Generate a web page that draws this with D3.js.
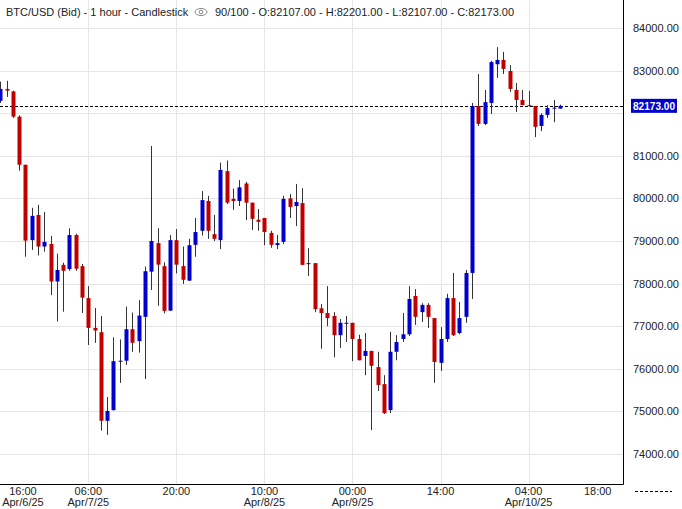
<!DOCTYPE html>
<html>
<head>
<meta charset="utf-8">
<script src="https://cdn.jsdelivr.net/npm/d3@7"></script>
<style>
  body { margin: 0; background: #fff; }
  text { font-family: "Liberation Sans", Arial, sans-serif; }
</style>
</head>
<body>
<svg id="chart" width="682" height="509"></svg>
<script>
// hourly candles starting Apr 6 16:00
const opens = [82290,82570,82510,81920,80790,79020,79610,78870,78930,78050,78440,78340,79140,78410,77660,76960,76860,74780,75030,76170,
  76190,76930,76650,77220,78280,78950,78410,77365,79020,78410,78070,78910,79240,79940,79160,79020,80640,79990,79940,80350,
  79900,79500,79540,79190,78905,78980,80000,79820,79890,78460,78480,77420,77310,77240,76790,77060,77080,76700,76300,76420,
  76040,75640,75030,76400,76700,76810,77710,77330,77500,77190,76140,76700,77660,76840,77220,78250,82170,81750,82240,83150,
  83250,82990,82545,82310,82190,82170,81700,81960,82107,82107];
const highs = [82740,82760,82530,81950,80790,79780,79850,79680,79120,78700,78490,79300,79170,78460,77940,77430,77240,75340,76740,76690,
  77460,77320,77610,78400,81230,79300,78500,79140,79280,78870,79050,79540,80170,80060,79610,80840,80890,80230,80430,80390,
  79900,79750,79540,79240,79140,80060,80100,80340,80240,78830,78480,77520,77940,77330,77170,77240,77080,76800,76840,76420,
  76400,75850,76870,76790,77310,77940,77870,77540,77540,77190,76980,77760,78250,77570,78320,82240,82920,82545,83230,83550,
  83440,83130,82710,82545,82520,82170,82000,82190,82310,82201];
const lows = [82240,82380,81890,80650,78630,78790,78660,78750,77730,77110,77340,78300,78300,77310,76560,76610,74550,74450,75020,75670,
  76090,76400,76380,75760,77850,77480,77300,77360,78240,77990,78060,78630,79130,79050,79000,78810,79870,79730,79820,79490,
  79260,79240,78900,78840,78810,78930,79540,79350,78430,78180,77330,76470,77000,76270,76490,76630,76180,76200,75850,74560,
  75480,74940,74960,76200,76630,76770,77030,77100,76960,75670,75950,76630,76770,76810,77080,77640,81700,81720,81980,82830,
  82920,82500,82030,82190,82160,81440,81580,81890,81790,82107];
const closes = [82570,82530,81920,80790,79010,79590,78870,78980,78050,78320,78300,79140,78350,77670,76960,76900,74780,75010,76180,76190,
  76930,76610,77250,78290,79000,78445,77360,79020,78445,78090,78900,79210,79960,79240,79050,80670,79900,79940,80260,79900,
  79520,79450,79210,78910,78950,79990,79800,79915,78440,78480,77400,77310,77190,76790,77080,77080,76700,76200,76420,76070,
  75620,74960,76400,76630,76810,77640,77220,77500,77220,76160,76700,77660,76790,77190,78250,82170,81750,82260,83200,83250,
  83040,82570,82310,82190,82170,81680,81960,82120,82130,82173];

const priceTicks = d3.range(74000, 84001, 1000);
const gridIdx = [14, 28, 42, 56, 70, 84];
const timeLabels = [
  { i: 3.6, t: "16:00", d: "Apr/6/25" },
  { i: 14, t: "06:00", d: "Apr/7/25" },
  { i: 28, t: "20:00", d: "" },
  { i: 42, t: "10:00", d: "Apr/8/25" },
  { i: 56, t: "00:00", d: "Apr/9/25" },
  { i: 70, t: "14:00", d: "" },
  { i: 84, t: "04:00", d: "Apr/10/25" },
  { i: 95, t: "18:00", d: "" }
];
const lastPrice = 82173;

const candles = opens.map((o, i) => ({ i, o, h: highs[i], l: lows[i], c: closes[i] }));

const svg = d3.select("#chart");
const plotW = 623, plotH = 484;

const x = d3.scaleLinear().domain([0, 89]).range([0.3, 560]);
const y = d3.scaleLinear().domain([74000, 84000]).range([454, 28]);

// grid
svg.append("g").selectAll("line").data(priceTicks).enter().append("line")
  .attr("x1", 0).attr("x2", plotW)
  .attr("y1", d => Math.round(y(d)) + 0.5).attr("y2", d => Math.round(y(d)) + 0.5)
  .attr("stroke", "#e6e6e6");
svg.append("g").selectAll("line").data(gridIdx).enter().append("line")
  .attr("x1", d => Math.round(x(d)) + 0.5).attr("x2", d => Math.round(x(d)) + 0.5)
  .attr("y1", 0).attr("y2", plotH)
  .attr("stroke", "#e6e6e6");

// last price line
svg.append("line")
  .attr("x1", 0).attr("x2", plotW)
  .attr("y1", Math.round(y(lastPrice)) + 0.5).attr("y2", Math.round(y(lastPrice)) + 0.5)
  .attr("stroke", "#000").attr("stroke-dasharray", "3,2");

// candles
const g = svg.append("g");
g.selectAll(".wick").data(candles).enter().append("line")
  .attr("x1", d => Math.round(x(d.i)) + 0.5).attr("x2", d => Math.round(x(d.i)) + 0.5)
  .attr("y1", d => y(d.h)).attr("y2", d => y(d.l))
  .attr("stroke", "#333").attr("stroke-width", 1);
g.selectAll(".body").data(candles).enter().append("rect")
  .attr("x", d => Math.round(x(d.i)) - 1.5)
  .attr("width", 4)
  .attr("y", d => y(Math.max(d.o, d.c)))
  .attr("height", d => Math.max(1, Math.abs(y(d.o) - y(d.c))))
  .attr("fill", d => d.c >= d.o ? "#0000cc" : "#c00000");

// frame
svg.append("line").attr("x1", 0).attr("x2", plotW + 0.5).attr("y1", plotH + 0.5).attr("y2", plotH + 0.5).attr("stroke", "#000");
svg.append("line").attr("x1", plotW + 0.5).attr("x2", plotW + 0.5).attr("y1", 0).attr("y2", plotH + 0.5).attr("stroke", "#000");

// right axis labels (the 82000 one sits under the price tag)
svg.append("g").selectAll("text").data(priceTicks.filter(d => Math.abs(y(d) - y(lastPrice)) > 10)).enter().append("text")
  .attr("x", 633).attr("y", d => y(d) + 4)
  .attr("font-size", 11).attr("fill", "#222")
  .text(d => d3.format(".2f")(d));

// last price tag
svg.append("rect").attr("x", 631).attr("y", y(lastPrice) - 7).attr("width", 46).attr("height", 14).attr("fill", "#0000cc");
svg.append("text").attr("x", 633).attr("y", y(lastPrice) + 4)
  .attr("font-size", 11).attr("font-weight", "bold").attr("fill", "#fff")
  .attr("textLength", 42).attr("lengthAdjust", "spacingAndGlyphs")
  .text(d3.format(".2f")(lastPrice));

// bottom labels
const tl = svg.append("g").selectAll("g").data(timeLabels).enter().append("g");
tl.append("text").attr("x", d => x(d.i)).attr("y", 495).attr("text-anchor", "middle")
  .attr("font-size", 11).attr("fill", "#222").text(d => d.t);
tl.append("text").attr("x", d => x(d.i)).attr("y", 506).attr("text-anchor", "middle")
  .attr("font-size", 11).attr("fill", "#222").text(d => d.d);

svg.append("line").attr("x1", 635).attr("x2", 672).attr("y1", 491.5).attr("y2", 491.5)
  .attr("stroke", "#000").attr("stroke-dasharray", "3,2");

// title
svg.append("text").attr("x", 6).attr("y", 16).attr("font-size", 11).attr("fill", "#222")
  .text("BTC/USD (Bid) - 1 hour - Candlestick");
svg.append("ellipse").attr("cx", 201).attr("cy", 12).attr("rx", 6).attr("ry", 3.5)
  .attr("fill", "none").attr("stroke", "#888");
svg.append("circle").attr("cx", 201).attr("cy", 12).attr("r", 1.8)
  .attr("fill", "none").attr("stroke", "#888");
svg.append("text").attr("x", 215).attr("y", 16).attr("font-size", 11).attr("fill", "#222")
  .text("90/100 - O:82107.00 - H:82201.00 - L:82107.00 - C:82173.00");
</script>
</body>
</html>
